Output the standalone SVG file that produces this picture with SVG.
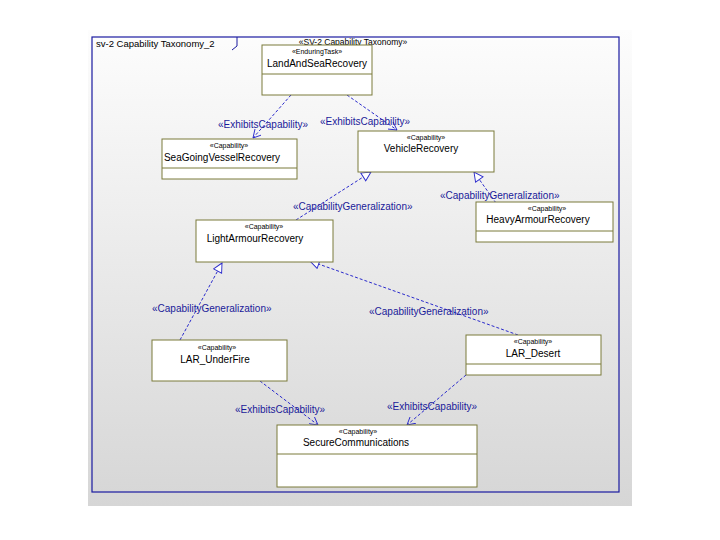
<svg xmlns="http://www.w3.org/2000/svg" width="720" height="540" viewBox="0 0 720 540">
<defs>
<linearGradient id="bg" x1="0" y1="0" x2="0" y2="1">
<stop offset="0" stop-color="#fdfdfd"/>
<stop offset="1" stop-color="#d6d6d6"/>
</linearGradient>
<marker id="open" viewBox="0 0 10 10" refX="9" refY="5" markerWidth="9" markerHeight="9" orient="auto" markerUnits="userSpaceOnUse">
<path d="M0,0 L9,5 L0,10" fill="none" stroke="#2a2acc" stroke-width="1"/>
</marker>
<marker id="tri" viewBox="0 0 12 12" refX="11" refY="6" markerWidth="11" markerHeight="11" orient="auto" markerUnits="userSpaceOnUse">
<path d="M1,1 L11,6 L1,11 Z" fill="#ffffff" stroke="#2a2acc" stroke-width="1"/>
</marker>
</defs>
<style>
.box{fill:#ffffff;stroke:#7a7a3a;stroke-width:1}
.div{stroke:#7a7a3a;stroke-width:1}
.st{font-family:"Liberation Sans",Arial,sans-serif;font-size:7px;fill:#000000;text-anchor:middle}
.nm{font-family:"Liberation Sans",Arial,sans-serif;font-size:10px;fill:#000000;text-anchor:middle}
.lbl{font-family:"Liberation Sans",Arial,sans-serif;font-size:10px;fill:#1a1a99}
.con{fill:none;stroke:#2a2acc;stroke-width:1;stroke-dasharray:3,2}
</style>
<rect x="0" y="0" width="720" height="540" fill="#ffffff"/>
<rect x="88" y="30" width="544" height="476" fill="url(#bg)"/>
<g id="frame">
<rect x="92" y="37" width="527" height="455" fill="none" stroke="#1a1aa0" stroke-width="1.2"/>
<path d="M237,37 L237,46 L232,50" fill="none" stroke="#1a1aa0" stroke-width="1"/>
<text x="96" y="47" font-family="Liberation Sans, Arial, sans-serif" font-size="9.5" fill="#000000">sv-2 Capability Taxonomy_2</text>
<text x="353" y="45" class="st" style="font-size:8.5px">«SV-2 Capability Taxonomy»</text>
</g>
<g id="connectors">
<line class="con" x1="291" y1="95" x2="253" y2="138" marker-end="url(#open)"/>
<line class="con" x1="347" y1="95" x2="397" y2="130" marker-end="url(#open)"/>
<line class="con" x1="296" y1="220" x2="371" y2="172" marker-end="url(#tri)"/>
<line class="con" x1="496" y1="203" x2="474" y2="172" marker-end="url(#tri)"/>
<line class="con" x1="180" y1="340" x2="222" y2="263" marker-end="url(#tri)"/>
<line class="con" x1="518" y1="335" x2="310" y2="261" marker-end="url(#tri)"/>
<line class="con" x1="260" y1="381" x2="318" y2="425" marker-end="url(#open)"/>
<line class="con" x1="466" y1="375" x2="407" y2="425" marker-end="url(#open)"/>
<text class="lbl" x="218" y="128">«ExhibitsCapability»</text>
<text class="lbl" x="320" y="125">«ExhibitsCapability»</text>
<text class="lbl" x="293" y="210">«CapabilityGeneralization»</text>
<text class="lbl" x="440" y="199">«CapabilityGeneralization»</text>
<text class="lbl" x="152" y="312">«CapabilityGeneralization»</text>
<text class="lbl" x="369" y="315">«CapabilityGeneralization»</text>
<text class="lbl" x="235" y="413">«ExhibitsCapability»</text>
<text class="lbl" x="387" y="410">«ExhibitsCapability»</text>
</g>
<g id="LandAndSeaRecovery">
<rect class="box" x="262" y="45" width="110" height="50"/>
<line class="div" x1="262" y1="74" x2="372" y2="74"/>
<text class="st" x="317" y="54">«EnduringTask»</text>
<text class="nm" x="317" y="67">LandAndSeaRecovery</text>
</g>
<g id="SeaGoingVesselRecovery">
<rect class="box" x="162" y="139" width="135" height="40"/>
<line class="div" x1="162" y1="168" x2="297" y2="168"/>
<text class="st" x="229" y="148">«Capability»</text>
<text class="nm" x="222" y="161">SeaGoingVesselRecovery</text>
</g>
<g id="VehicleRecovery">
<rect class="box" x="358" y="131" width="136" height="41"/>
<text class="st" x="426" y="140">«Capability»</text>
<text class="nm" x="421" y="152">VehicleRecovery</text>
</g>
<g id="HeavyArmourRecovery">
<rect class="box" x="476" y="202" width="137" height="40"/>
<line class="div" x1="476" y1="231" x2="613" y2="231"/>
<text class="st" x="547" y="211">«Capability»</text>
<text class="nm" x="538" y="223">HeavyArmourRecovery</text>
</g>
<g id="LightArmourRecovery">
<rect class="box" x="196" y="220" width="137" height="42"/>
<text class="st" x="264" y="229">«Capability»</text>
<text class="nm" x="255" y="242">LightArmourRecovery</text>
</g>
<g id="LAR_UnderFire">
<rect class="box" x="152" y="340" width="135" height="41"/>
<text class="st" x="217" y="350">«Capability»</text>
<text class="nm" x="215" y="363">LAR_UnderFire</text>
</g>
<g id="LAR_Desert">
<rect class="box" x="466" y="335" width="135" height="40"/>
<line class="div" x1="466" y1="364" x2="601" y2="364"/>
<text class="st" x="533" y="344">«Capability»</text>
<text class="nm" x="533" y="357">LAR_Desert</text>
</g>
<g id="SecureCommunications">
<rect class="box" x="277" y="425" width="200" height="62"/>
<line class="div" x1="277" y1="454" x2="477" y2="454"/>
<text class="st" x="358" y="434">«Capability»</text>
<text class="nm" x="356" y="446">SecureCommunications</text>
</g>
</svg>
